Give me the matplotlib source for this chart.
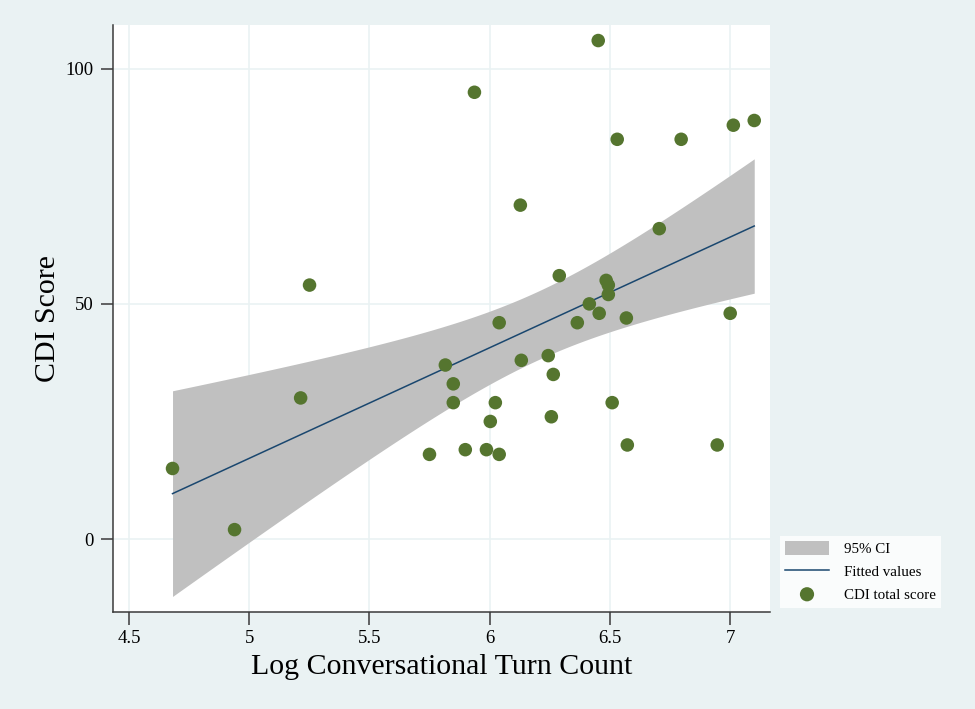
import matplotlib
matplotlib.use("Agg")
import matplotlib.pyplot as plt
import numpy as np

# log conversational turn count vs CDI total score
log_ctc = [4.681, 4.939, 5.214, 5.251, 5.750, 5.816, 5.849, 5.849, 5.899, 5.937,
           5.987, 6.003, 6.024, 6.040, 6.040, 6.128, 6.132, 6.244, 6.257, 6.265,
           6.290, 6.365, 6.415, 6.452, 6.456, 6.485, 6.494, 6.494, 6.510, 6.531,
           6.569, 6.573, 6.706, 6.797, 6.947, 7.001, 7.014, 7.101]
cdi_score = [15, 2, 30, 54, 18, 37, 33, 29, 19, 95,
             19, 25, 29, 46, 18, 71, 38, 39, 26, 35,
             56, 46, 50, 106, 48, 55, 54, 52, 29, 85,
             47, 20, 66, 85, 20, 48, 88, 89]

x_ticks = [4.5, 5, 5.5, 6, 6.5, 7]
x_tick_labels = ["4.5", "5", "5.5", "6", "6.5", "7"]
y_ticks = [0, 50, 100]
y_tick_labels = ["0", "50", "100"]

BG = "#EAF2F3"
GREEN = "#55752F"
NAVY = "#1A476F"
CI_GRAY = "#C0C0C0"
T_CRIT = 2.028  # t(0.975, df=36)

plt.rcParams["font.family"] = ["Liberation Serif", "DejaVu Serif"]

x = np.asarray(log_ctc)
y = np.asarray(cdi_score)
n = len(x)
slope, intercept = np.polyfit(x, y, 1)
resid = y - (intercept + slope * x)
s = np.sqrt(np.sum(resid ** 2) / (n - 2))
grid = np.linspace(x.min(), x.max(), 100)
fit = intercept + slope * grid
se = s * np.sqrt(1 / n + (grid - x.mean()) ** 2 / np.sum((x - x.mean()) ** 2))
lo, hi = fit - T_CRIT * se, fit + T_CRIT * se

fig = plt.figure(figsize=(9.75, 7.09), dpi=100, facecolor=BG)
ax = fig.add_axes([0.1159, 0.1368, 0.6738, 0.8279])
ax.set_facecolor("white")

ci = ax.fill_between(grid, lo, hi, color=CI_GRAY, linewidth=0, zorder=2, label="95% CI")
line, = ax.plot(grid, fit, color=NAVY, linewidth=1.1, zorder=3, label="Fitted values")
pts = ax.scatter(x, y, s=95, color=GREEN, edgecolors="none", zorder=4, label="CDI total score")

ax.set_xlim(4.4334, 7.1664)
ax.set_ylim(-15.52, 109.3)
ax.set_xticks(x_ticks)
ax.set_xticklabels(x_tick_labels)
ax.set_yticks(y_ticks)
ax.set_yticklabels(y_tick_labels)
ax.grid(True, color=BG, linewidth=1.2, zorder=0)
ax.set_axisbelow(True)

for side in ("top", "right"):
    ax.spines[side].set_visible(False)
for side in ("left", "bottom"):
    ax.spines[side].set_color("#3a3a3a")
    ax.spines[side].set_linewidth(1.1)
ax.tick_params(direction="out", length=9, width=1.1, color="#3a3a3a",
               labelsize=13.5, pad=5)
ax.tick_params(axis="x", pad=4)

ax.set_xlabel("Log Conversational Turn Count", fontsize=21.5, labelpad=5)
ax.set_ylabel("CDI Score", fontsize=21.5, labelpad=3)

leg = fig.legend(handles=[ci, line, pts], loc="upper left",
                 bbox_to_anchor=(780 / 975, 1 - 536 / 709),
                 frameon=True, fancybox=False, fontsize=10.8,
                 handlelength=2.9, handleheight=1.0, handletextpad=1.0,
                 labelspacing=0.55, borderpad=0.35, borderaxespad=0,
                 markerscale=1.05)
leg.get_frame().set_facecolor("white")
leg.get_frame().set_edgecolor("white")
leg.get_frame().set_linewidth(0)

fig.savefig("out.png", dpi=100, facecolor=BG)
